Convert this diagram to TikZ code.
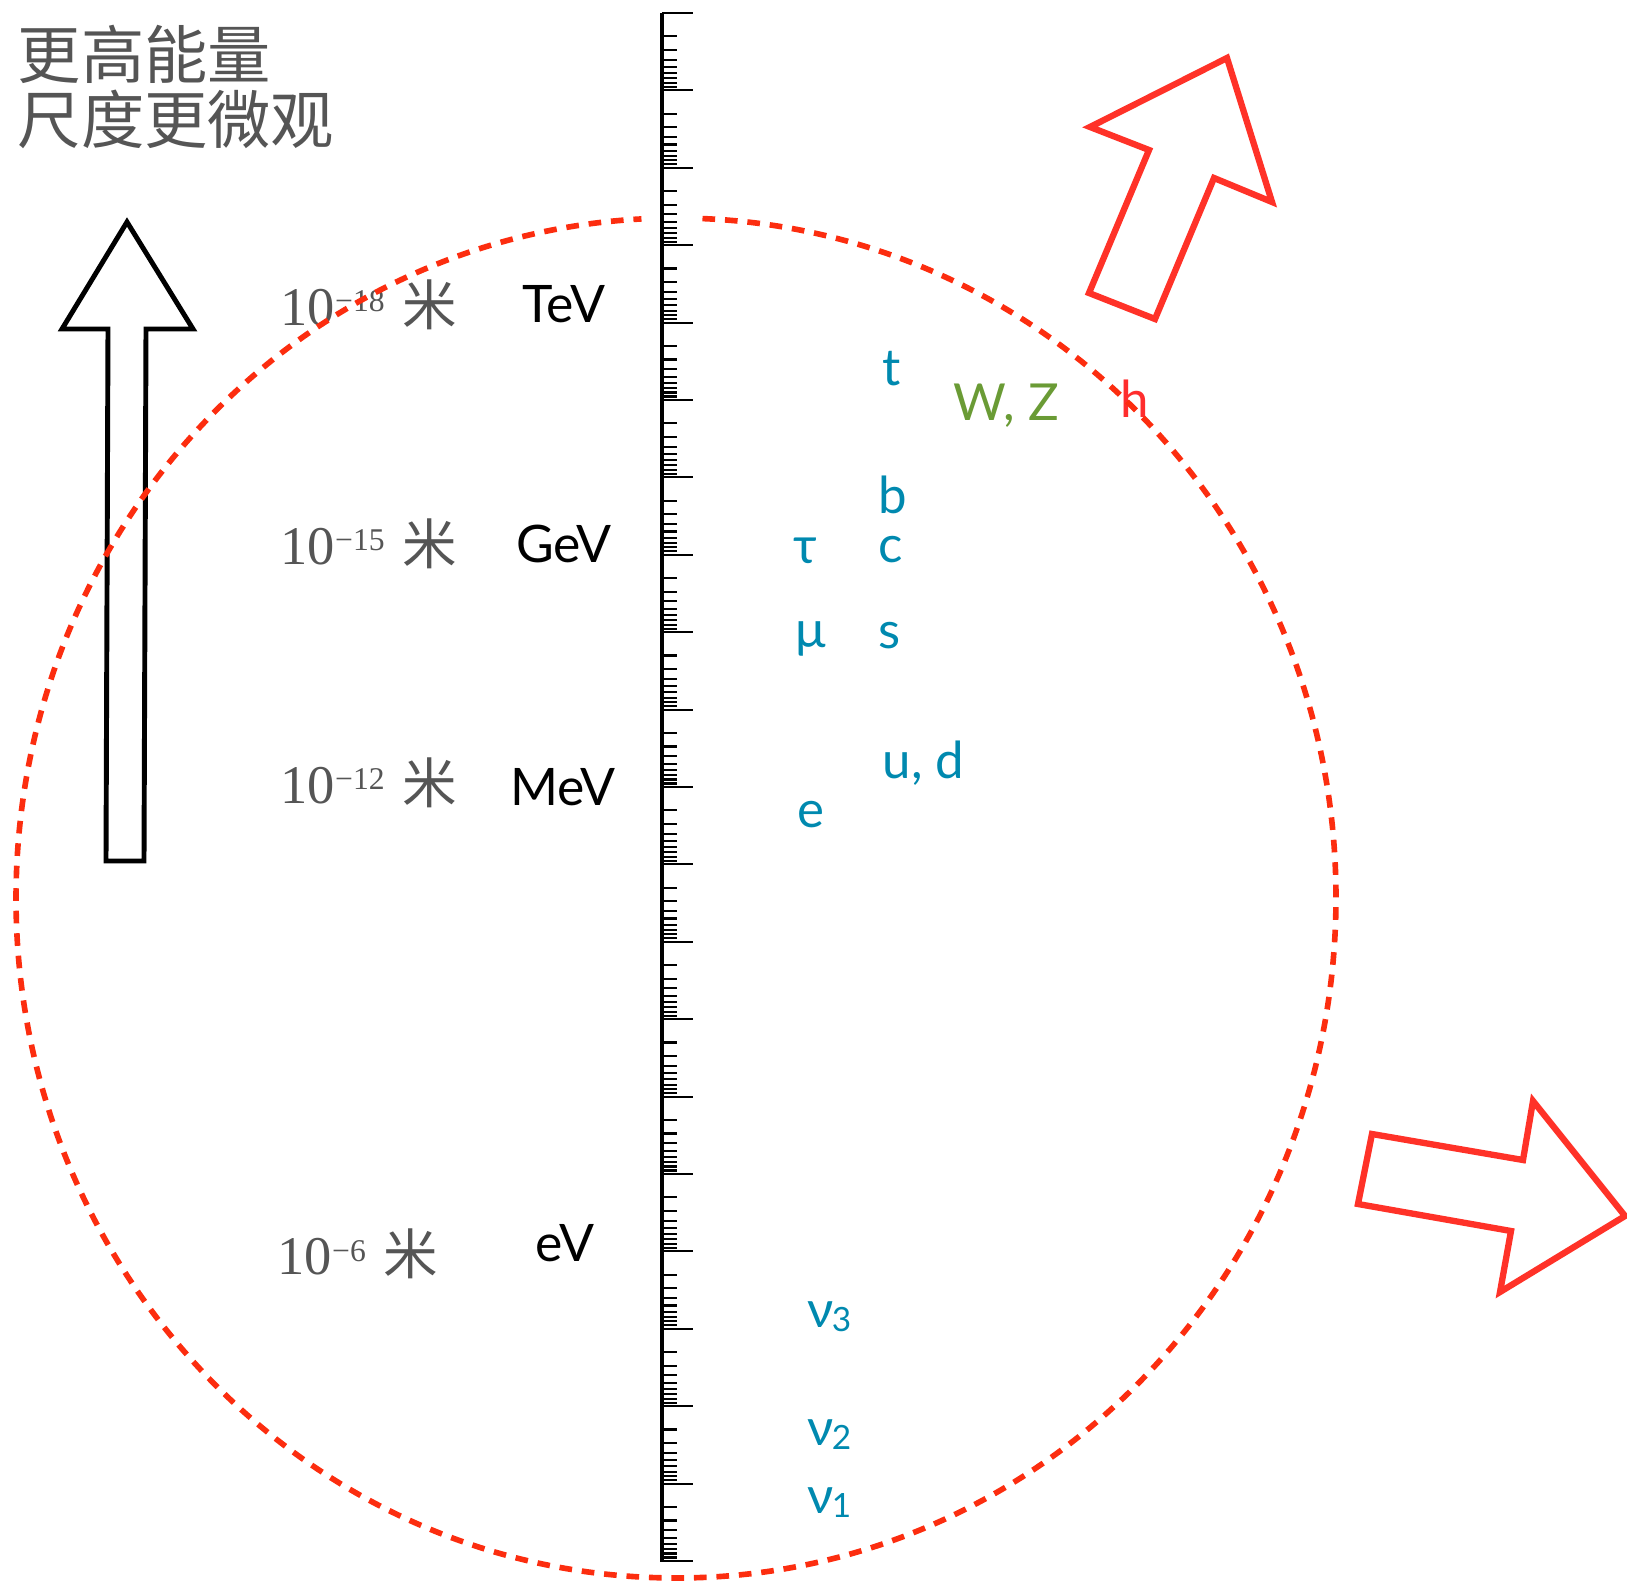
\documentclass[tikz,border=0pt]{standalone}
\usepackage{fontspec}
\setmainfont{Liberation Serif}
\newfontfamily\gillsans{Lato}
\newfontfamily\cjk{Noto Sans CJK SC}
\definecolor{textgray}{RGB}{85,85,85}
\definecolor{partblue}{RGB}{0,137,175}
\definecolor{bosongreen}{RGB}{106,155,53}
\definecolor{higgsred}{RGB}{255,45,45}
\definecolor{arrowred}{RGB}{255,50,40}
\definecolor{ringred}{RGB}{252,45,15}
\newcommand\expo[1]{\raisebox{3.7pt}{\fontsize{9}{10}\selectfont −#1}}
\newcommand\unitmi{\hspace{5pt}{\cjk 米}}
\newcommand\nuidx[1]{\hspace{-0.6pt}\raisebox{-1.2pt}{\fontsize{9.5}{10}\selectfont #1}}

\begin{document}
\begin{tikzpicture}[x=0.01cm, y=-0.01cm,
  heading/.style={anchor=base west, inner sep=0pt, text=textgray, font=\cjk\fontsize{18}{20}\selectfont},
  dist/.style={anchor=base west, inner sep=0pt, text=textgray, font=\fontsize{15.5}{18}\selectfont},
  enrg/.style={anchor=base, inner sep=0pt, font=\gillsans\fontsize{14.7}{17}\selectfont},
  part/.style={anchor=base west, inner sep=0pt, text=partblue, font=\gillsans\fontsize{14.5}{17}\selectfont},
  axisline/.style={line width=1pt},
  tick/.style={line width=0.6pt},
  bigarrow/.style={line width=1.4pt, line join=miter},
  redarrow/.style={draw=arrowred, line width=1.8pt, line join=miter},
  ring/.style={draw=ringred, line width=1.6pt, dash pattern=on 3.6pt off 2.8pt}
]
  \clip (0,0) rectangle (1627,1582);

  \node[heading] (head1) at (17,79) {更高能量};
  \node[heading] (head2) at (17,144) {尺度更微观};

  \draw[bigarrow] (127,222) -- (193,329) -- (146,329) -- (144,861) -- (106,861) -- (108,329) -- (62,329) -- cycle;

  \node[dist] (d18) at (280,325) {10\expo{18}\unitmi};
  \node[dist] (d15) at (280,564) {10\expo{15}\unitmi};
  \node[dist] (d12) at (280,803) {10\expo{12}\unitmi};
  \node[dist] (d6) at (277,1274) {10\expo{6}\unitmi};

  \node[enrg] (tev) at (564,322) {TeV};
  \node[enrg] (gev) at (564,562) {GeV};
  \node[enrg] (mev) at (563,805) {MeV};
  \node[enrg] (ev) at (565,1261) {eV};

  % log scale
  \draw[axisline] (662,13) -- (662,1562);
  \foreach \k in {0,...,20}
    \draw[tick] (662,{13+77.4*\k}) -- ++(31,0);
  \foreach \k in {0,...,19}
    \foreach \n in {2,...,9}
      \draw[tick] (662,{13+77.4*(\k+log10(\n))}) -- ++(15,0);

  \node[part] (top) at (882,385) {t};
  \node[part, text=bosongreen] (wz) at (953,420) {W, Z};
  \node[part, text=higgsred] (higgs) at (1120,417) {h};
  \node[part] (bottom) at (878,513) {b};
  \node[part] (charm) at (878,562) {c};
  \node[part] (tau) at (793,563) {τ};
  \node[part] (muon) at (795,647) {μ};
  \node[part] (strange) at (878,648) {s};
  \node[part] (ud) at (882,778) {u, d};
  \node[part] (electron) at (797,827) {e};
  \node[part] (nu3) at (807,1327) {ν\nuidx{3}};
  \node[part] (nu2) at (807,1445) {ν\nuidx{2}};
  \node[part] (nu1) at (807,1513) {ν\nuidx{1}};

  \draw[redarrow] (1227,58) -- (1272,202) -- (1214,178) -- (1155,319) -- (1089,293) -- (1149,150) -- (1090,127) -- cycle;
  \draw[redarrow] (1372,1134) -- (1523,1160) -- (1533,1101) -- (1625,1216) -- (1500,1292) -- (1511,1231) -- (1358,1204) -- cycle;

  \draw[ring] (676,898) ++(272.3:660 and 680) arc[start angle=272.3, end angle=627, x radius=660, y radius=680];
\end{tikzpicture}
\end{document}
